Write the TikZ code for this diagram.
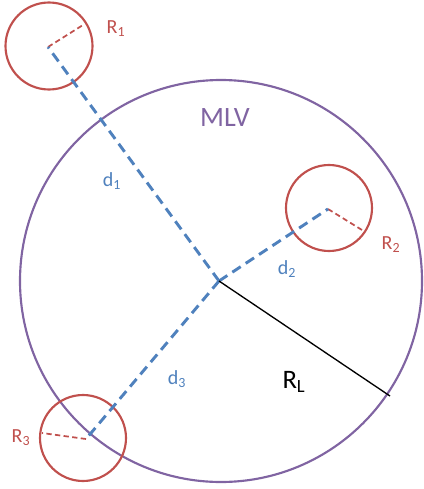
\documentclass[tikz,border=0pt]{standalone}
\usepackage{fontspec}
\setmainfont{Carlito}
\definecolor{mlvpurple}{RGB}{128,100,162}
\definecolor{myred}{RGB}{192,80,77}
\definecolor{myblue}{RGB}{79,129,189}
\newcommand{\sbs}[1]{\textsubscript{#1}}
\begin{document}
\begin{tikzpicture}[x=0.75pt,y=-0.75pt,
  bigcirc/.style={draw=mlvpurple,line width=1.6pt},
  smallcirc/.style={draw=myred,line width=1.6pt},
  distline/.style={draw=myblue,line width=2.2pt,dash pattern=on 7.5pt off 4.5pt},
  radline/.style={draw=myred,line width=1.3pt,dash pattern=on 4pt off 2.5pt},
  redlbl/.style={text=myred,font=\fontsize{15}{15}\selectfont,inner sep=0pt},
  bluelbl/.style={text=myblue,font=\fontsize{15}{15}\selectfont,inner sep=0pt}]
\useasboundingbox (0,0) rectangle (424,489);
\coordinate (C) at (219,281);
\coordinate (c1) at (48,47);
\coordinate (c2) at (328,209);
\coordinate (c3) at (86,439);
\coordinate (r1) at (83,25);
\coordinate (r2) at (362,230);
\coordinate (r3) at (42,433);
\coordinate (rl) at (390,396);
\draw[bigcirc] (221,281) circle (201);
\draw[smallcirc] (49,46) circle (43.5);
\draw[smallcirc] (329,208) circle (43);
\draw[smallcirc] (83,438) circle (43);
\draw[radline] (c1) -- (r1);
\draw[radline] (c2) -- (r2);
\draw[radline] (c3) -- (r3);
\draw[distline] (C) -- (c1);
\draw[distline] (C) -- (c2);
\draw[distline] (C) -- (c3);
\draw[black,line width=1pt] (C) -- (rl);
\node[text=mlvpurple,font=\fontsize{21}{21}\selectfont,inner sep=0pt] (mlv) at (225,118) {MLV};
\node[redlbl] (l1) at (116,29) {R\sbs{1}};
\node[redlbl] (l2) at (391,245) {R\sbs{2}};
\node[redlbl] (l3) at (21,438) {R\sbs{3}};
\node[bluelbl] (d1) at (112,181) {d\sbs{1}};
\node[bluelbl] (d2) at (287,269) {d\sbs{2}};
\node[bluelbl] (d3) at (177,379) {d\sbs{3}};
\node[font=\fontsize{20}{20}\selectfont,inner sep=0pt] (RL) at (294,382) {R\sbs{L}};
\end{tikzpicture}
\end{document}
